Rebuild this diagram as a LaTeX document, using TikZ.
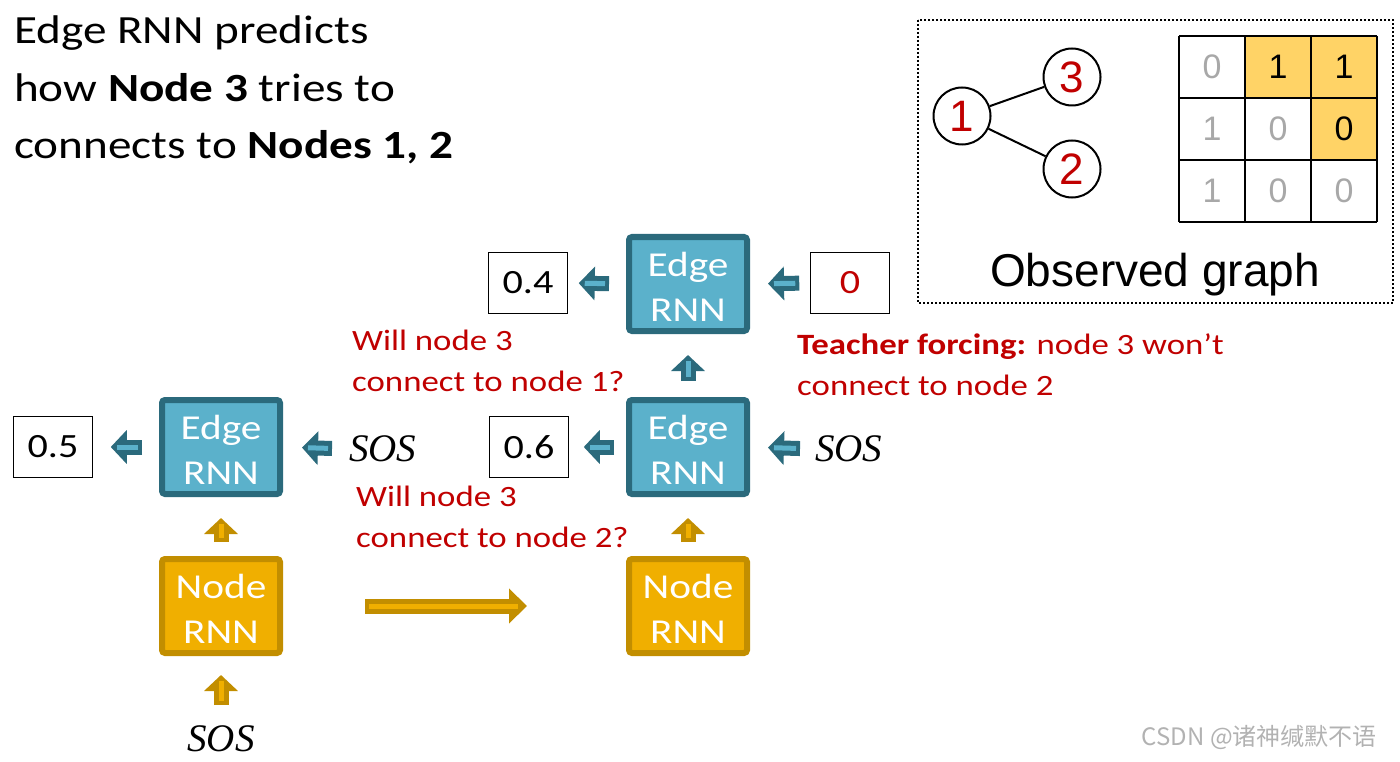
\documentclass[tikz,border=0pt]{standalone}
\usepackage{fontspec}
\setmainfont{Carlito}[FakeStretch=1.18]
\newfontfamily\helvfont{Liberation Sans}
\newfontfamily\sosfont{Liberation Serif}
\newfontfamily\cjkfont{Noto Sans CJK SC}
\usepackage{xcolor}
\usepackage{tikz}
\usetikzlibrary{arrows.meta,calc,positioning}

\definecolor{edgefill}{HTML}{5BB1CB}
\definecolor{edgeline}{HTML}{2B6A7C}
\definecolor{nodefill}{HTML}{F0AF00}
\definecolor{nodeline}{HTML}{C28E00}
\definecolor{redtxt}{HTML}{C00000}
\definecolor{cellfill}{HTML}{FFD366}
\definecolor{lightnum}{HTML}{A8A8A8}

\begin{document}
\begin{tikzpicture}[x=1pt,y=-1pt,
    rnnbox/.style={rounded corners=3pt,line width=6pt,minimum width=118pt,minimum height=94pt,inner sep=0pt,text=white,align=center,text height=75pt,text depth=0pt,font=\fontsize{35}{45}\selectfont},
    edgebox/.style={rnnbox,draw=edgeline,fill=edgefill},
    nodebox/.style={rnnbox,draw=nodeline,fill=nodefill},
    outbox/.style={draw,line width=1.5pt,minimum width=79pt,minimum height=61pt,inner sep=0pt,font=\fontsize{34}{38}\selectfont},
    sostxt/.style={inner sep=0pt,font=\fontsize{39}{40}\sosfont\itshape},
    note/.style={text=redtxt,align=left,anchor=north west,inner sep=0pt,font=\fontsize{29.5}{41}\selectfont},
    titleline/.style={anchor=base west,inner sep=0pt,font=\fontsize{40}{57}\selectfont},
    edgearr/.style 2 args={draw=edgeline,line width=15pt,-{Triangle[length=16pt,width=33pt]},shorten <=#1,shorten >=#2,
      postaction={draw=edgefill,line width=5pt,-,shorten <=#1+4pt,shorten >=#2+6pt}},
    nodearr/.style 2 args={edgearr={#1}{#2},draw=nodeline,postaction={draw=nodefill,line width=5pt,-,shorten <=#1+4pt,shorten >=#2+6pt}},
    gcirc/.style={circle,draw,line width=2pt,minimum size=57pt,inner sep=0pt,text=redtxt,font=\fontsize{44}{44}\helvfont},
    cellnum/.style={inner sep=0pt,font=\fontsize{34}{34}\helvfont}]
  \useasboundingbox (0,0) rectangle (1400,762);

  \node[titleline] (title1) at (14,44) {Edge RNN predicts};
  \node[titleline] (title2) at (14,101.5) {how \textbf{Node 3} tries to};
  \node[titleline] (title3) at (14,159) {connects to \textbf{Nodes 1, 2}};

  \draw[dotted,line width=2pt] (918,20) rectangle (1393,303);
  \node[gcirc] (g1) at (962,116) {1};
  \node[gcirc] (g3) at (1072,77) {3};
  \node[gcirc] (g2) at (1072,169) {2};
  \draw[line width=2pt] (g1) -- (g3) (g1) -- (g2);
  \fill[cellfill] (1245,36) rectangle (1377,98) (1311,98) rectangle (1377,160);
  \foreach \x in {1179,1245,1311,1377} \draw[line width=2.5pt] (\x,36) -- (\x,222);
  \foreach \y in {36,98,160,222} \draw[line width=2.5pt] (1179,\y) -- (1377,\y);
  \foreach \r/\c/\v/\col in {0/0/0/lightnum,0/1/1/black,0/2/1/black,1/0/1/lightnum,1/1/0/lightnum,1/2/0/black,2/0/1/lightnum,2/1/0/lightnum,2/2/0/lightnum}
    \node[cellnum,text=\col] (m\r\c) at ({1212+66*\c},{67+62*\r}) {\v};
  \node[anchor=base,inner sep=0pt,font=\fontsize{46}{46}\helvfont] (obs) at (1155,286) {Observed graph};

  \node[edgebox] (edgeT) at (688,284) {Edge\\RNN};
  \node[edgebox] (edgeM) at (688,447) {Edge\\RNN};
  \node[edgebox] (edgeL) at (221,447) {Edge\\RNN};
  \node[nodebox] (nodeL) at (221,606) {Node\\RNN};
  \node[nodebox] (nodeR) at (688,606) {Node\\RNN};
  \node[outbox] (out04) at (528,283) {0.4};
  \node[outbox] (out05) at (53,447) {0.5};
  \node[outbox] (out06) at (529,447) {0.6};
  \node[outbox,text=redtxt] (in0) at (850,283) {0};
  \node[sostxt,anchor=west] (sosL) at (349,449) {SOS};
  \node[sostxt,anchor=west] (sosR) at (815,449) {SOS};
  \node[sostxt] (sosB) at (221,739) {SOS};

  \draw[edgearr={17pt}{10.5pt}] (edgeT.west) -- (out04.east);
  \draw[edgearr={10.5pt}{18pt}] (in0.west) -- (edgeT.east);
  \draw[edgearr={12pt}{14.5pt}] (edgeM.west) -- (out06.east);
  \draw[edgearr={15pt}{18pt}] (sosR.west) -- (edgeM.east);
  \draw[edgearr={17pt}{17.5pt}] (edgeL.west) -- (out05.east);
  \draw[edgearr={17pt}{19pt}] (sosL.west) -- (edgeL.east);
  \draw[edgearr={16pt}{21pt}] (edgeM.north) -- (edgeT.south);
  \draw[nodearr={14pt}{21pt}] (nodeL.north) -- (edgeL.south);
  \draw[nodearr={14pt}{21pt}] (nodeR.north) -- (edgeM.south);
  \draw[nodearr={20.5pt}{19pt}] (sosB.north) -- (nodeL.south);
  \draw[draw=nodeline,line width=15pt,-{Triangle[length=18pt,width=34pt]},shorten <=82pt,shorten >=99pt,
    postaction={draw=nodefill,line width=5pt,-,shorten <=86pt,shorten >=108pt}] (nodeL.east) -- (nodeR.west);

  \node[note] (ask1) at (352,330) {Will node 3\\connect to node 1?};
  \node[note] (ask2) at (356,486) {Will node 3\\connect to node 2?};
  \node[note] (force) at (797,333) {\textbf{Teacher forcing:} node 3 won’t\\connect to node 2};

  \node[anchor=east,inner sep=0pt,text=black!30,font=\fontsize{24}{26}\cjkfont] (mark) at (1377,737) {CSDN @诸神缄默不语};
\end{tikzpicture}
\end{document}
